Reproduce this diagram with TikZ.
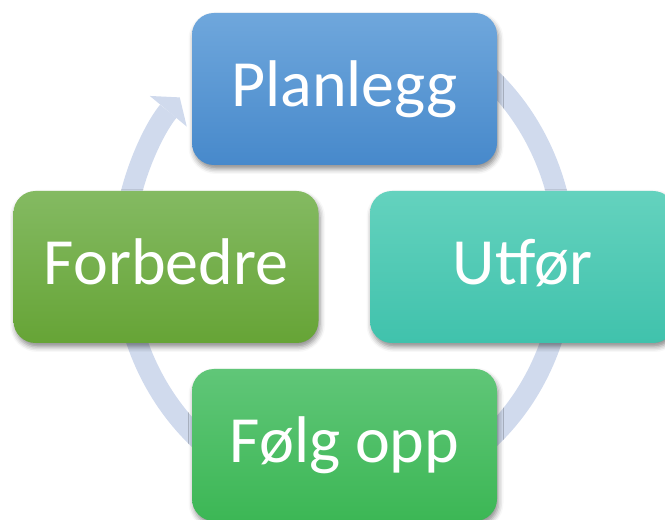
\documentclass[tikz,border=0pt]{standalone}
\usepackage{fontspec}
\setmainfont{Carlito}
\usetikzlibrary{arrows.meta,shadows.blur,calc}

\definecolor{ringcol}{RGB}{208,218,237}
\definecolor{plantop}{RGB}{111,167,220}
\definecolor{planbot}{RGB}{71,137,203}
\definecolor{utftop}{RGB}{100,210,190}
\definecolor{utfbot}{RGB}{64,194,172}
\definecolor{foltop}{RGB}{96,198,120}
\definecolor{folbot}{RGB}{60,183,85}
\definecolor{fortop}{RGB}{132,186,98}
\definecolor{forbot}{RGB}{102,164,54}

\begin{document}
\begin{tikzpicture}[x=1pt,y=1pt,
  stage/.style={rounded corners=22pt, minimum width=305pt, minimum height=152pt,
    inner sep=0pt, text=white, font=\fontsize{66}{66}\selectfont,
    text height=50pt, text depth=14pt,
    blur shadow={shadow xshift=1.5pt, shadow yshift=-4pt,
      shadow blur radius=5pt, shadow opacity=45}},
  cycle ring/.style={draw=ringcol, line width=21pt,
    -{Triangle[length=18pt, width=48pt, line width=0pt, fill=ringcol]}},
]
\useasboundingbox (0,0) rectangle (665,520);
\coordinate (hub) at (344,262);

% background cycle arrow, running clockwise and ending at the top stage
\draw[cycle ring] ($(hub)+(75:221pt and 240pt)$)
  arc[start angle=75, end angle=-222, x radius=221pt, y radius=240pt];

% the four stages
\node[stage, top color=plantop, bottom color=planbot] (plan) at (344.5,431) {Planlegg};
\node[stage, top color=utftop, bottom color=utfbot] (utf) at (522.5,253) {Utfør};
\node[stage, top color=foltop, bottom color=folbot] (fol) at (344.5,75) {Følg opp};
\node[stage, top color=fortop, bottom color=forbot] (forb) at (166,253) {Forbedre};
\end{tikzpicture}
\end{document}
